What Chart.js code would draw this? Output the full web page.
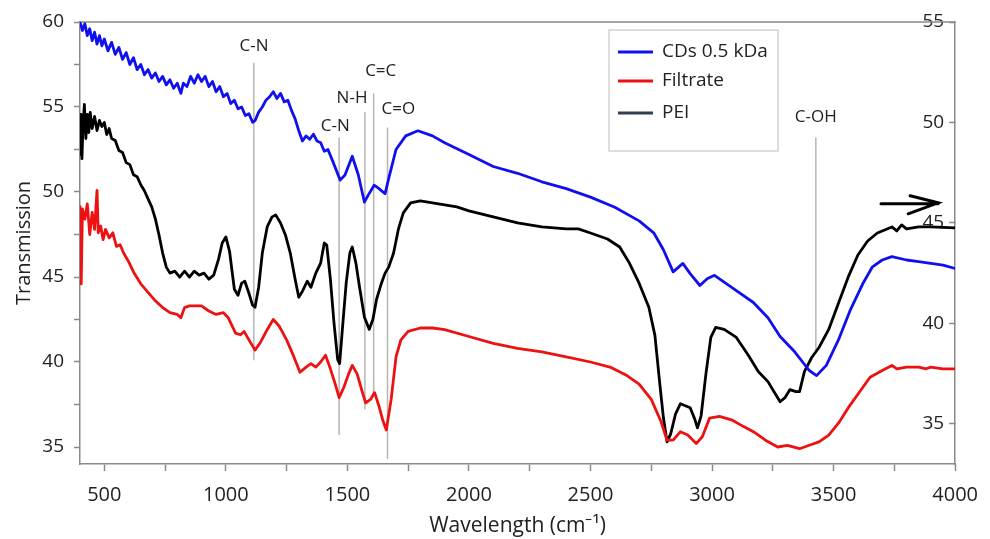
<!DOCTYPE html>
<html>
<head>
<meta charset="utf-8">
<script src="https://cdn.jsdelivr.net/npm/chart.js@4.4.0/dist/chart.umd.min.js"></script>
<style>
  html, body { margin: 0; padding: 0; background: #fff; }
  #ftir_chart { display: block; }
</style>
</head>
<body>
<canvas id="ftir_chart" width="990" height="539"></canvas>
<script>
// CDs 0.5 kDa (left axis)
const cdsWave = [400, 410, 420, 430, 440, 450, 460, 470, 480, 490, 500, 515, 530, 545, 560, 575, 590, 605, 620, 635,
  650, 665, 680, 695, 710, 725, 740, 755, 770, 785, 800, 815, 825, 840, 855, 870, 885, 900, 915, 930,
  945, 960, 975, 990, 1005, 1020, 1035, 1050, 1065, 1080, 1095, 1110, 1120, 1135, 1150, 1165, 1180, 1195, 1210, 1225,
  1240, 1255, 1270, 1285, 1300, 1315, 1330, 1345, 1360, 1375, 1390, 1405, 1420, 1440, 1470, 1490, 1520, 1545, 1570, 1585,
  1610, 1630, 1655, 1670, 1700, 1740, 1790, 1850, 1900, 2000, 2100, 2200, 2300, 2400, 2500, 2600, 2700, 2760, 2800, 2840,
  2880, 2910, 2950, 2980, 3010, 3100, 3170, 3230, 3280, 3340, 3400, 3430, 3470, 3520, 3570, 3620, 3660, 3700, 3740, 3800,
  3850, 3900, 3950, 4000];
const cdsT = [60.0, 59.5, 59.9, 59.2, 59.6, 58.9, 59.4, 58.7, 59.2, 58.6, 59.0, 58.3, 58.8, 58.1, 58.5, 57.8, 58.2, 57.5, 57.9, 57.2,
  57.5, 56.9, 57.2, 56.7, 57.0, 56.5, 56.8, 56.3, 56.6, 56.1, 56.4, 55.8, 56.4, 56.2, 56.8, 56.4, 56.9, 56.5, 56.8, 56.2,
  56.5, 55.9, 56.2, 55.6, 55.8, 55.2, 55.4, 54.9, 55.0, 54.5, 54.6, 54.1, 54.2, 54.7, 55.0, 55.4, 55.6, 55.9, 55.5, 55.8,
  55.3, 55.4, 54.8, 54.3, 53.6, 53.0, 53.3, 53.1, 53.4, 53.0, 52.9, 52.4, 52.5, 51.8, 50.7, 51.0, 52.1, 51.0, 49.4, 49.8,
  50.4, 50.2, 49.9, 50.8, 52.5, 53.3, 53.6, 53.3, 52.9, 52.2, 51.5, 51.1, 50.6, 50.2, 49.7, 49.1, 48.3, 47.6, 46.6, 45.3,
  45.8, 45.2, 44.5, 44.9, 45.1, 44.2, 43.5, 42.6, 41.5, 40.6, 39.5, 39.2, 39.8, 41.3, 43.1, 44.6, 45.6, 46.0, 46.2, 46.0,
  45.9, 45.8, 45.7, 45.5];

// Filtrate (left axis)
const filtrateWave = [400, 405, 410, 420, 430, 440, 450, 460, 470, 475, 485, 495, 505, 520, 535, 550, 565, 580, 600, 620,
  650, 680, 710, 740, 770, 800, 815, 830, 850, 880, 900, 930, 960, 990, 1010, 1040, 1060, 1075, 1095, 1120,
  1140, 1170, 1195, 1220, 1250, 1280, 1305, 1330, 1350, 1370, 1390, 1410, 1430, 1450, 1466, 1485, 1505, 1520, 1540, 1560,
  1575, 1595, 1612, 1630, 1645, 1660, 1680, 1700, 1720, 1750, 1800, 1850, 1900, 2000, 2100, 2200, 2300, 2400, 2500, 2580,
  2650, 2700, 2750, 2790, 2815, 2840, 2870, 2900, 2935, 2960, 2990, 3030, 3080, 3130, 3170, 3220, 3270, 3310, 3360, 3400,
  3440, 3480, 3520, 3560, 3600, 3650, 3700, 3740, 3760, 3800, 3850, 3880, 3900, 3950, 4000];
const filtrateT = [49.2, 44.6, 49.0, 48.4, 49.3, 47.5, 48.8, 47.8, 50.1, 47.6, 48.0, 47.2, 47.8, 47.3, 47.6, 46.8, 46.9, 46.4, 45.9, 45.3,
  44.6, 44.1, 43.6, 43.2, 42.9, 42.8, 42.6, 43.2, 43.3, 43.3, 43.3, 43.0, 42.8, 42.9, 42.6, 41.7, 41.6, 41.8, 41.3, 40.7,
  41.1, 41.9, 42.5, 42.1, 41.3, 40.3, 39.4, 39.7, 39.9, 39.7, 40.0, 40.4, 39.6, 38.7, 37.9, 38.5, 39.3, 39.8, 39.3, 38.3,
  37.6, 37.8, 38.2, 37.4, 36.6, 36.0, 37.8, 40.3, 41.3, 41.8, 42.0, 42.0, 41.9, 41.5, 41.1, 40.8, 40.6, 40.3, 40.0, 39.7,
  39.2, 38.7, 37.8, 36.5, 35.4, 35.4, 35.9, 35.7, 35.2, 35.6, 36.7, 36.8, 36.6, 36.2, 35.9, 35.4, 35.0, 35.1, 34.9, 35.1,
  35.3, 35.7, 36.4, 37.3, 38.1, 39.1, 39.5, 39.8, 39.6, 39.7, 39.7, 39.6, 39.7, 39.6, 39.6];

// PEI (right axis)
const peiWave = [400, 404, 408, 412, 418, 424, 430, 436, 442, 450, 460, 470, 480, 490, 500, 510, 520, 530, 545, 560,
  575, 590, 605, 620, 635, 650, 665, 680, 695, 710, 725, 740, 755, 770, 790, 810, 830, 850, 870, 890,
  910, 930, 950, 970, 985, 1000, 1015, 1035, 1050, 1065, 1078, 1095, 1110, 1120, 1135, 1150, 1170, 1190, 1205, 1225,
  1245, 1265, 1285, 1300, 1315, 1335, 1350, 1370, 1390, 1405, 1415, 1430, 1445, 1460, 1468, 1480, 1495, 1510, 1520, 1535,
  1550, 1570, 1590, 1605, 1620, 1640, 1655, 1670, 1690, 1710, 1730, 1760, 1800, 1850, 1900, 1950, 2000, 2100, 2200, 2300,
  2400, 2450, 2500, 2570, 2620, 2660, 2700, 2740, 2765, 2785, 2800, 2815, 2830, 2850, 2870, 2890, 2910, 2930, 2940, 2955,
  2975, 2995, 3015, 3050, 3100, 3150, 3190, 3230, 3260, 3280, 3300, 3320, 3345, 3360, 3380, 3410, 3440, 3480, 3520, 3560,
  3600, 3640, 3680, 3720, 3740, 3760, 3780, 3800, 3850, 3900, 4000];
const peiT = [48.4, 50.4, 48.2, 49.8, 50.9, 49.2, 50.4, 49.5, 50.5, 49.7, 50.3, 49.6, 50.1, 49.8, 50.0, 49.4, 49.7, 49.2, 49.1, 48.6,
  48.5, 48.0, 47.9, 47.4, 47.3, 46.9, 46.6, 46.2, 45.8, 45.2, 44.4, 43.5, 42.8, 42.5, 42.6, 42.3, 42.6, 42.3, 42.6, 42.4,
  42.5, 42.2, 42.4, 43.2, 44.0, 44.3, 43.6, 41.7, 41.4, 42.0, 42.1, 41.5, 40.9, 40.8, 41.8, 43.5, 44.8, 45.3, 45.4, 45.0,
  44.4, 43.5, 42.2, 41.3, 41.6, 42.1, 41.8, 42.5, 43.0, 44.0, 43.9, 42.2, 40.0, 38.2, 38.0, 39.8, 42.0, 43.5, 43.8, 43.0,
  41.8, 40.3, 39.7, 40.2, 41.2, 42.0, 42.5, 42.8, 43.5, 44.7, 45.5, 46.0, 46.1, 46.0, 45.9, 45.8, 45.6, 45.3, 45.0, 44.8,
  44.7, 44.7, 44.5, 44.2, 43.8, 43.0, 42.0, 40.8, 39.4, 37.0, 35.3, 34.1, 34.5, 35.5, 36.0, 35.9, 35.8, 35.2, 34.8, 35.4,
  37.5, 39.3, 39.8, 39.7, 39.3, 38.4, 37.6, 37.1, 36.5, 36.1, 36.3, 36.7, 36.6, 36.6, 37.6, 38.3, 38.8, 39.7, 41.0, 42.3,
  43.4, 44.1, 44.5, 44.7, 44.8, 44.6, 44.9, 44.7, 44.8, 44.8, 44.75];

// band assignments: label, wavenumber, line top / bottom (left axis), label anchor
const peakNames = ["C-N", "C-N", "N-H", "C=C", "C=O", "C-OH"];
const peakWave = [1115, 1466, 1572, 1608, 1665, 3427];
const peakTop = [57.6, 53.2, 54.7, 55.8, 53.8, 53.2];
const peakBottom = [40.1, 35.7, 37.2, 38.1, 34.3, 40.6];
const peakLabelWave = [1116, 1450, 1519, 1637, 1710, 3427];
const peakLabelT = [58.6, 53.9, 55.5, 57.1, 54.9, 54.4];

// arrow pointing PEI to the right axis
const arrowWave = [3695, 3930];
const arrowT = 46.0;

const seriesNames = ["CDs 0.5 kDa", "Filtrate", "PEI"];
const seriesColors = ["#1010ee", "#ee1111", "#000000"];
const legendColors = ["#1010ee", "#ee1111", "#333f50"];

const axisGray = "#8a8a8a";
const textColor = "#222222";
const fontFamily = "'Open Sans', 'Liberation Sans', sans-serif";

function pairs(xs, ys) {
    return xs.map((x, i) => ({ x: x, y: ys[i] }));
}

const extras = {
    id: "extras",
    beforeDatasetsDraw(chart) {
        const ctx = chart.ctx;
        const area = chart.chartArea;
        const xs = chart.scales.x;
        const ys = chart.scales.y;
        ctx.save();
        // top frame line
        ctx.strokeStyle = axisGray;
        ctx.lineWidth = 1.5;
        ctx.beginPath();
        ctx.moveTo(area.left, area.top);
        ctx.lineTo(area.right, area.top);
        ctx.stroke();
        // band marker lines
        ctx.strokeStyle = "#b5b5b5";
        ctx.lineWidth = 1.5;
        peakWave.forEach((w, i) => {
            const px = xs.getPixelForValue(w);
            ctx.beginPath();
            ctx.moveTo(px, ys.getPixelForValue(peakTop[i]));
            ctx.lineTo(px, ys.getPixelForValue(peakBottom[i]));
            ctx.stroke();
        });
        ctx.fillStyle = textColor;
        ctx.font = "17px " + fontFamily;
        ctx.textAlign = "center";
        ctx.textBaseline = "middle";
        peakNames.forEach((name, i) => {
            ctx.fillText(name, xs.getPixelForValue(peakLabelWave[i]), ys.getPixelForValue(peakLabelT[i]));
        });
        ctx.restore();
    },
    afterDatasetsDraw(chart) {
        const ctx = chart.ctx;
        const area = chart.chartArea;
        const xs = chart.scales.x;
        const y1 = chart.scales.y1;
        ctx.save();
        // arrow
        const ax0 = xs.getPixelForValue(arrowWave[0]);
        const ax1 = xs.getPixelForValue(arrowWave[1]);
        const ay = y1.getPixelForValue(arrowT);
        ctx.strokeStyle = "#000";
        ctx.lineWidth = 3;
        ctx.lineCap = "round";
        ctx.beginPath();
        ctx.moveTo(ax0, ay + 1);
        ctx.lineTo(ax1, ay + 1);
        ctx.moveTo(ax1 - 28, ay - 7);
        ctx.lineTo(ax1, ay);
        ctx.lineTo(ax1 - 30, ay + 11);
        ctx.stroke();

        // legend box
        const lx = area.left + 529;
        const ly = area.top + 8;
        ctx.fillStyle = "#fff";
        ctx.strokeStyle = "#d2d2d2";
        ctx.lineWidth = 1.5;
        ctx.fillRect(lx, ly, 169, 121);
        ctx.strokeRect(lx, ly, 169, 121);
        ctx.font = "19px " + fontFamily;
        ctx.textAlign = "left";
        ctx.textBaseline = "middle";
        const rows = [22, 51, 83];
        seriesNames.forEach((name, i) => {
            const ry = ly + rows[i];
            ctx.strokeStyle = legendColors[i];
            ctx.lineWidth = 3;
            ctx.lineCap = "butt";
            ctx.beginPath();
            ctx.moveTo(lx + 9, ry);
            ctx.lineTo(lx + 44, ry);
            ctx.stroke();
            ctx.fillStyle = textColor;
            ctx.fillText(name, lx + 53, ry);
        });
        ctx.restore();
    },
};

const ctx = document.getElementById("ftir_chart");
new Chart(ctx, {
    type: "line",
    data: {
        datasets: [
            {
                label: seriesNames[0],
                data: pairs(cdsWave, cdsT),
                borderColor: seriesColors[0],
                yAxisID: "y",
            },
            {
                label: seriesNames[1],
                data: pairs(filtrateWave, filtrateT),
                borderColor: seriesColors[1],
                yAxisID: "y",
            },
            {
                label: seriesNames[2],
                data: pairs(peiWave, peiT),
                borderColor: seriesColors[2],
                yAxisID: "y1",
            },
        ],
    },
    options: {
        responsive: false,
        animation: false,
        devicePixelRatio: 1,
        layout: { padding: { top: 22, left: 0, right: 0, bottom: 0 } },
        elements: {
            line: { borderWidth: 2.8, tension: 0, fill: false, borderJoinStyle: "round" },
            point: { radius: 0 },
        },
        plugins: {
            legend: { display: false },
            tooltip: { enabled: false },
        },
        scales: {
            x: {
                type: "linear",
                min: 400,
                max: 4000,
                afterFit: (scale) => { scale.height = 75; },
                ticks: {
                    stepSize: 250,
                    includeBounds: false,
                    autoSkip: false,
                    maxRotation: 0,
                    padding: 12,
                    color: textColor,
                    font: { family: fontFamily, size: 20 },
                    callback: (v) => (v % 500 === 0 ? String(v) : ""),
                },
                grid: { drawOnChartArea: false, tickLength: 7, color: axisGray, tickWidth: 1.5 },
                border: { color: axisGray, width: 1.5 },
                title: {
                    display: true,
                    text: "Wavelength (cm\u207B\u00B9)",
                    color: textColor,
                    font: { family: fontFamily, size: 21 },
                    padding: { top: 0, bottom: 0 },
                },
            },
            y: {
                position: "left",
                min: 34,
                max: 60,
                afterFit: (scale) => { scale.width = 80; },
                ticks: {
                    stepSize: 2.5,
                    includeBounds: false,
                    autoSkip: false,
                    padding: 10,
                    color: textColor,
                    font: { family: fontFamily, size: 19 },
                    callback: (v) => (v % 5 === 0 ? String(v) : ""),
                },
                grid: { drawOnChartArea: false, tickLength: 6, color: axisGray, tickWidth: 1.5 },
                border: { color: axisGray, width: 1.5 },
                title: {
                    display: true,
                    text: "Transmission",
                    color: textColor,
                    font: { family: fontFamily, size: 20 },
                    padding: { top: 12, bottom: 0 },
                },
            },
            y1: {
                position: "right",
                min: 33,
                max: 55,
                afterFit: (scale) => { scale.width = 25; },
                ticks: {
                    stepSize: 5,
                    includeBounds: false,
                    autoSkip: false,
                    mirror: true,
                    padding: -11,
                    color: textColor,
                    font: { family: fontFamily, size: 19 },
                },
                grid: { drawOnChartArea: false, tickLength: -6, color: axisGray, tickWidth: 1.5 },
                border: { color: axisGray, width: 1.5 },
            },
        },
    },
    plugins: [extras],
});
</script>
</body>
</html>
